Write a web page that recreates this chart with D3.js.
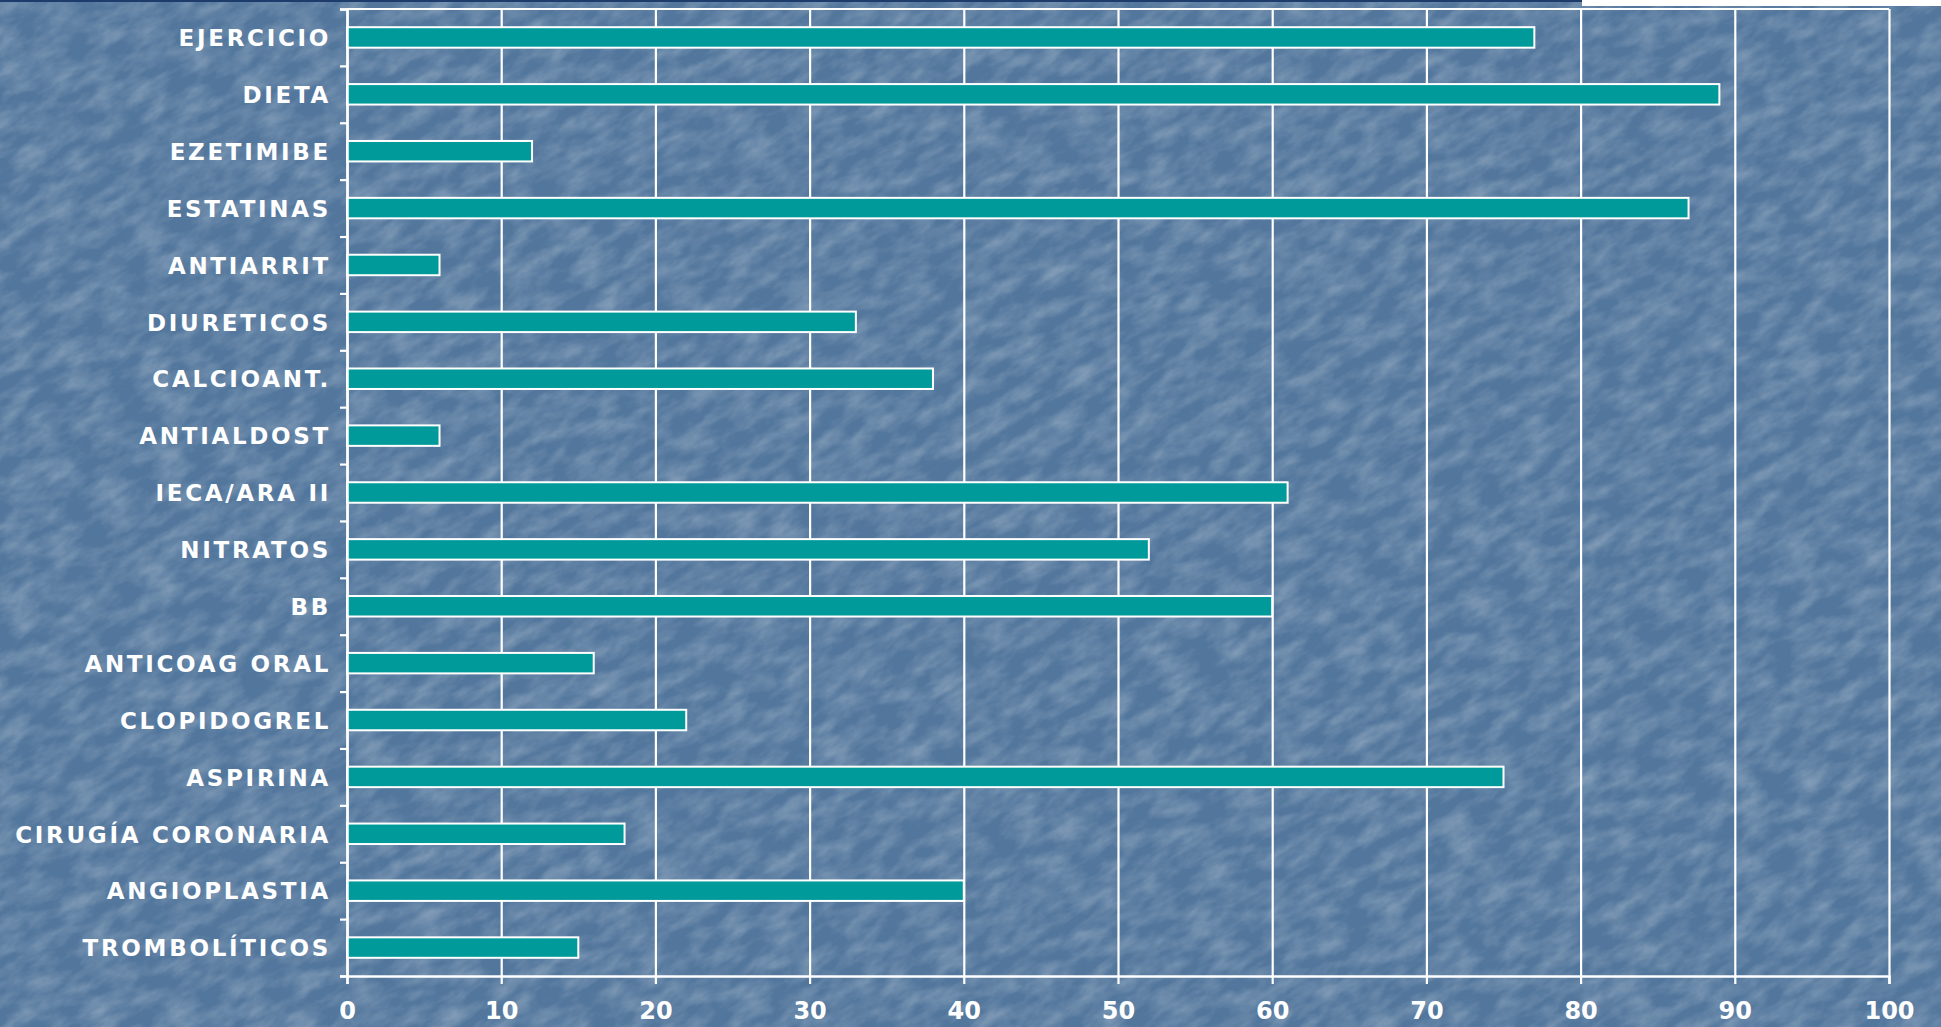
<!DOCTYPE html>
<html>
<head>
<meta charset="utf-8">
<script src="https://cdn.jsdelivr.net/npm/d3@7"></script>
<style>
  html, body { margin: 0; padding: 0; background: #54779e; overflow: hidden; }
  svg { display: block; }
</style>
</head>
<body>
<svg id="chart" width="1941" height="1027"></svg>
<script>
const categories = ["EJERCICIO","DIETA","EZETIMIBE","ESTATINAS","ANTIARRIT","DIURETICOS","CALCIOANT.","ANTIALDOST","IECA/ARA II","NITRATOS","BB","ANTICOAG ORAL","CLOPIDOGREL","ASPIRINA","CIRUGÍA CORONARIA","ANGIOPLASTIA","TROMBOLÍTICOS"];
const values = [77, 89, 12, 87, 6, 33, 38, 6, 61, 52, 60, 16, 22, 75, 18, 40, 15];
const xTicks = [0, 10, 20, 30, 40, 50, 60, 70, 80, 90, 100];

(function () {
const W = 1941, H = 1027;
const pL = 347, pR = 1889, pT = 9, pB = 976;

const svg = d3.select("#chart");
const defs = svg.append("defs");
const f = defs.append("filter").attr("id", "tex").attr("x", 0).attr("y", 0).attr("width", "100%").attr("height", "100%");
f.append("feTurbulence").attr("type", "fractalNoise").attr("baseFrequency", "0.07 0.03").attr("numOctaves", 4).attr("seed", 11).attr("result", "n");
f.append("feColorMatrix").attr("type", "matrix")
  .attr("values", "0 0 0 0 1  0 0 0 0 1  0 0 0 0 1  0.45 0 0 0 -0.15");

// background
svg.append("rect").attr("width", W).attr("height", H).attr("fill", "#52769c");
svg.append("g").attr("transform", "rotate(60 970 513)")
  .append("rect").attr("x", -700).attr("y", -700).attr("width", W + 1400).attr("height", H + 1400)
  .attr("filter", "url(#tex)");
// top strips
svg.append("rect").attr("x", 0).attr("y", 0).attr("width", 1582).attr("height", 2).attr("fill", "#1d3b6b");
svg.append("rect").attr("x", 1582).attr("y", 0).attr("width", W - 1582).attr("height", 6).attr("fill", "#ffffff");

const x = d3.scaleLinear().domain([0, 100]).range([pL, pR]);
const y = d3.scaleBand().domain(categories).range([pT, pB]).paddingInner(0.64).paddingOuter(0.32);
const yIdx = d3.scaleLinear().domain([0, categories.length]).range([pT, pB]);

// vertical grid
svg.append("g").attr("class", "grid")
  .attr("transform", `translate(0,${pB})`)
  .call(d3.axisBottom(x).tickValues(xTicks).tickSize(-(pB - pT)).tickFormat(""))
  .call(g => g.select(".domain").remove())
  .call(g => g.selectAll("line").attr("stroke", "#ffffff").attr("stroke-width", 2.2));

// top border
svg.append("line").attr("x1", pL).attr("x2", pR).attr("y1", pT).attr("y2", pT)
  .attr("stroke", "#ffffff").attr("stroke-width", 2.2);

// bars
svg.append("g").selectAll("rect").data(categories).join("rect")
  .attr("x", x(0))
  .attr("y", d => y(d))
  .attr("width", (d, i) => x(values[i]) - x(0))
  .attr("height", y.bandwidth())
  .attr("fill", "#009a9a")
  .attr("stroke", "#ffffff")
  .attr("stroke-width", 2);

// x axis
svg.append("g").attr("transform", `translate(0,${pB})`)
  .call(d3.axisBottom(x).tickValues(xTicks).tickSize(8).tickPadding(18))
  .call(g => g.select(".domain").attr("stroke", "#ffffff").attr("stroke-width", 2.5))
  .call(g => g.selectAll("line").attr("stroke", "#ffffff").attr("stroke-width", 2.2))
  .call(g => g.selectAll("text").attr("fill", "#ffffff")
    .style("font-family", "'DejaVu Sans', Verdana, sans-serif")
    .style("font-weight", "bold")
    .style("font-size", "24px"));

// y axis ticks (band boundaries)
svg.append("g").attr("transform", `translate(${pL},0)`)
  .call(d3.axisLeft(yIdx).tickValues(d3.range(categories.length + 1)).tickSize(7).tickFormat(""))
  .call(g => g.select(".domain").attr("stroke", "#ffffff").attr("stroke-width", 2.5))
  .call(g => g.selectAll("line").attr("stroke", "#ffffff").attr("stroke-width", 2.2));

// category labels
svg.append("g").attr("transform", `translate(${pL},0)`)
  .call(d3.axisLeft(y).tickSize(0).tickPadding(16))
  .call(g => g.select(".domain").remove())
  .call(g => g.selectAll("text").attr("fill", "#ffffff")
    .attr("dy", "0.38em")
    .style("font-family", "'DejaVu Sans', Verdana, sans-serif")
    .style("font-weight", "bold")
    .style("font-size", "23px")
    .style("letter-spacing", "2.7px"));
})();
</script>
</body>
</html>
